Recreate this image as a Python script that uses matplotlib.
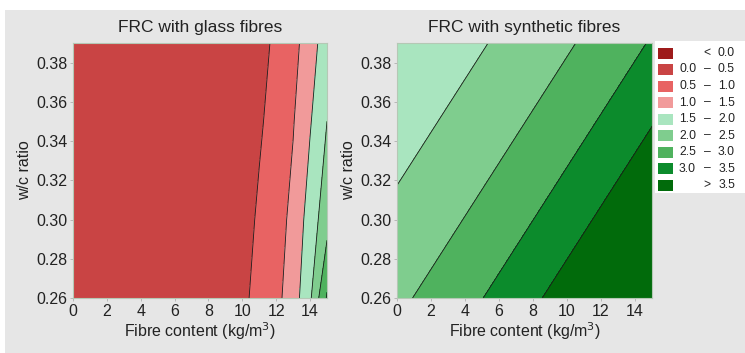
import matplotlib
matplotlib.use("Agg")
import matplotlib.pyplot as plt
import matplotlib.patches as mpatches
import numpy as np

# Contour levels and colours (Minitab-like)
levels = [-1.0, 0.0, 0.5, 1.0, 1.5, 2.0, 2.5, 3.0, 3.5, 5.0]
level_colors = ['#9e1b1b', '#c94444', '#e86363', '#f19a9a', '#a9e5bf',
                '#7fcd8e', '#4fb25e', '#0c8b2c', '#016b0b']
legend_low = ['', '0.0', '0.5', '1.0', '1.5', '2.0', '2.5', '3.0', '']
legend_sep = ['<', '\u2013', '\u2013', '\u2013', '\u2013', '\u2013', '\u2013', '\u2013', '>']
legend_high = ['0.0', '0.5', '1.0', '1.5', '2.0', '2.5', '3.0', '3.5', '3.5']

# FRC with glass fibres
glass_x = [0, 10, 11, 12, 13, 14, 15]
glass_y = [0.26, 0.30, 0.35, 0.39]
glass_z = [
    [0.10, 0.38, 0.68, 0.87, 1.25, 1.92, 3.05],
    [0.10, 0.31, 0.57, 0.79, 1.13, 1.72, 2.30],
    [0.10, 0.22, 0.44, 0.68, 0.97, 1.46, 2.00],
    [0.10, 0.15, 0.33, 0.60, 0.85, 1.25, 1.80],
]

# FRC with synthetic fibres: contours are parallel bands, so the grid
# columns follow the band direction (x at w/c=0.26 and at w/c=0.39)
synth_y = [0.26, 0.39]
synth_x_bottom = [-10, -5, 0, 5, 10, 15]
synth_x_top = [-0.4, 4.6, 9.6, 14.6, 19.6, 24.6]
synth_z = [1.48, 1.93, 2.39, 2.99, 3.71, 4.50]

bg = '#e6e6e6'
W, H = 745, 353
fig = plt.figure(figsize=(7.45, 3.53), dpi=100, facecolor='white')
fig.patches.append(mpatches.Rectangle((5 / W, 0), 1, 1 - 10 / H, transform=fig.transFigure,
                                      facecolor=bg, edgecolor='none', zorder=-10))

plt.rcParams['font.family'] = 'Liberation Sans'

ax1 = fig.add_axes([73 / W, 1 - 298 / H, 254 / W, 255 / H])
ax2 = fig.add_axes([397 / W, 1 - 298 / H, 255 / W, 255 / H])

Xg, Yg = np.meshgrid(glass_x, glass_y)
Zg = np.array(glass_z)
Xs = np.array([synth_x_bottom, synth_x_top])
Ys = np.array([[synth_y[0]] * len(synth_z), [synth_y[1]] * len(synth_z)])
Zs = np.array([synth_z, synth_z])

panels = [(ax1, Xg, Yg, Zg, 'FRC with glass fibres'),
          (ax2, Xs, Ys, Zs, 'FRC with synthetic fibres')]

for ax, X, Y, Z, title in panels:
    ax.contourf(X, Y, Z, levels=levels, colors=level_colors)
    ax.contour(X, Y, Z, levels=levels[1:-1], colors='#1a1a1a', linewidths=0.6)
    ax.set_xlim(0, 15)
    ax.set_ylim(0.26, 0.39)
    ax.set_xticks(np.arange(0, 15, 2))
    ax.set_yticks([0.26, 0.28, 0.30, 0.32, 0.34, 0.36, 0.38])
    ax.set_yticklabels(['0.26', '0.28', '0.30', '0.32', '0.34', '0.36', '0.38'])
    ax.tick_params(labelsize=11.5, length=2.5, width=0.6, color='#b0b0b0', pad=1.5, labelcolor='#222222')
    for s in ax.spines.values():
        s.set_color('#b5c8b5')
        s.set_linewidth(0.8)
    ax.set_title(title, fontsize=12.5, pad=8, color='#222222')
    ax.set_xlabel('Fibre content (kg/m$^3$)', fontsize=11.5, labelpad=1, color='#222222')
    ax.set_ylabel('w/c ratio', fontsize=11.5, labelpad=3, color='#222222')

# legend drawn by hand (three aligned columns like the original)
def fx(px):
    return px / W

def fy(py):
    return 1 - py / H

fig.patches.append(mpatches.Rectangle((fx(655), fy(193)), fx(745) - fx(655), fy(41) - fy(193),
                                      transform=fig.transFigure, facecolor='white',
                                      edgecolor='none', zorder=1))
for i, c in enumerate(level_colors):
    yc = 53 + i * 16.5
    fig.patches.append(mpatches.Rectangle((fx(658), fy(yc + 5.5)), fx(673) - fx(658), 11 / H,
                                          transform=fig.transFigure, facecolor=c,
                                          edgecolor='none', zorder=2))
    kw = dict(fontsize=8.7, va='center', color='#222222', zorder=3)
    if legend_low[i]:
        fig.text(fx(679), fy(yc), legend_low[i], ha='left', **kw)
    fig.text(fx(707), fy(yc), legend_sep[i], ha='center', **kw)
    fig.text(fx(735), fy(yc), legend_high[i], ha='right', **kw)

fig.savefig('out.png', dpi=100, facecolor='white')
